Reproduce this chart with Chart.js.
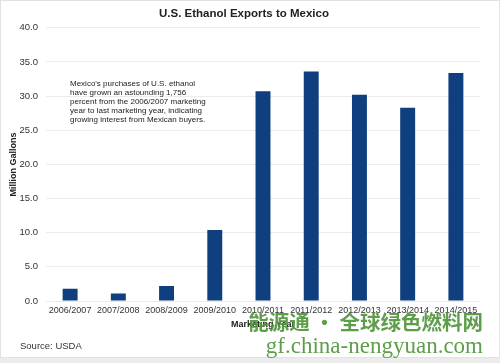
<!DOCTYPE html>
<html>
<head>
<meta charset="utf-8">
<script src="https://cdn.jsdelivr.net/npm/chart.js@4"></script>
<style>
  html, body { margin: 0; padding: 0; background: #fff; }
  #wrap { width: 500px; height: 363px; position: relative; }
</style>
</head>
<body>
<div id="wrap"><canvas id="ethanolChart"></canvas></div>
<script>
const years = ['2006/2007', '2007/2008', '2008/2009', '2009/2010', '2010/2011',
               '2011/2012', '2012/2013', '2013/2014', '2014/2015'];
const exportsMgal = [1.8, 1.1, 2.2, 10.4, 30.7, 33.6, 30.2, 28.3, 33.4];
const noteLines = [
    "Mexico's purchases of U.S. ethanol",
    'have grown an astounding 1,756',
    'percent from the 2006/2007 marketing',
    'year to last marketing year, indicating',
    'growing interest from Mexican buyers.'
];
const sourceText = 'Source: USDA';
const watermark = ['能源通 · 全球绿色燃料网', 'gf.china-nengyuan.com'];

const FONT = '"Liberation Sans", Arial, sans-serif';

// background, note, source and watermark
const extras = {
    id: 'extras',
    beforeDraw(chart) {
        const c = chart.ctx;
        c.save();
        c.fillStyle = '#fff';
        c.fillRect(0, 0, chart.width, chart.height);
        c.strokeStyle = '#e2e2e2';
        c.lineWidth = 1;
        c.strokeRect(0.5, 0.5, chart.width - 1, chart.height - 6);
        c.fillStyle = '#ececec';
        c.fillRect(0, chart.height - 5, chart.width, 5);
        c.restore();
    },
    afterDraw(chart) {
        const c = chart.ctx;
        c.save();
        c.fillStyle = '#222';
        c.font = '8px ' + FONT;
        c.textBaseline = 'middle';
        noteLines.forEach((t, i) => c.fillText(t, 70, 84 + i * 9));
        c.font = '9.5px ' + FONT;
        c.fillStyle = '#333';
        c.fillText(sourceText, 20, 346);
        c.fillStyle = 'rgba(80, 150, 60, 0.92)';
        c.font = 'bold 20.5px "Noto Sans CJK SC", sans-serif';
        c.textAlign = 'right';
        c.fillText(watermark[0], 483, 322);
        c.font = '23px "Liberation Serif", serif';
        c.fillText(watermark[1], 483, 347);
        c.restore();
    }
};

new Chart(document.getElementById('ethanolChart'), {
    type: 'bar',
    data: {
        labels: years,
        datasets: [{
            data: exportsMgal,
            backgroundColor: '#0f3f7e',
            barPercentage: 0.31,
            categoryPercentage: 1
        }]
    },
    options: {
        responsive: true,
        maintainAspectRatio: false,
        animation: false,
        layout: { padding: { left: 8, right: 20, top: 0, bottom: 33 } },
        plugins: {
            legend: { display: false },
            tooltip: { enabled: false },
            title: {
                display: true,
                text: 'U.S. Ethanol Exports to Mexico',
                color: '#222',
                font: { family: FONT, size: 11.5, weight: 'bold' },
                padding: { top: 7, bottom: 7 }
            }
        },
        scales: {
            x: {
                grid: { display: false, drawTicks: false },
                border: { display: false },
                ticks: {
                    color: '#333',
                    font: { family: FONT, size: 9 },
                    maxRotation: 0,
                    autoSkip: false,
                    padding: 4
                },
                title: {
                    display: true,
                    text: 'Marketing Year',
                    color: '#222',
                    font: { family: FONT, size: 9, weight: 'bold' },
                    padding: { top: 0, bottom: 0 }
                },
                afterFit(scale) { scale.height = 29; }
            },
            y: {
                min: 0,
                max: 40,
                grid: { color: '#ececec', drawTicks: false },
                border: { display: false },
                ticks: {
                    stepSize: 5,
                    color: '#333',
                    padding: 8,
                    font: { family: FONT, size: 9.5 },
                    callback: v => v.toFixed(1)
                },
                title: {
                    display: true,
                    text: 'Million Gallons',
                    color: '#222',
                    font: { family: FONT, size: 9, weight: 'bold' },
                    padding: { top: 0, bottom: 2 }
                },
                afterFit(scale) { scale.width = 38; }
            }
        }
    },
    plugins: [extras]
});
</script>
</body>
</html>
